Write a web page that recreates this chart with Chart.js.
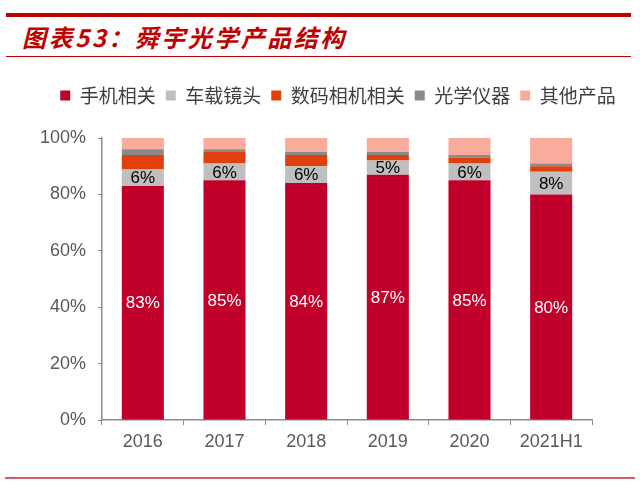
<!DOCTYPE html>
<html>
<head>
<meta charset="utf-8">
<script src="https://cdn.jsdelivr.net/npm/chart.js@4.4.1/dist/chart.umd.min.js"></script>
<style>
  html, body { margin: 0; padding: 0; background: #fff; }
  body { width: 640px; height: 491px; position: relative; overflow: hidden; }
  .rule { position: absolute; background: #C00000; }
  #title {
    position: absolute; left: 22px; top: 22px;
    font-family: "Noto Sans CJK SC", sans-serif; font-weight: bold; font-style: italic;
    font-size: 24px; line-height: 30px; letter-spacing: 2.5px; color: #C00000;
  }
  #wrap { position: absolute; left: 0; top: 70px; width: 640px; height: 400px; }
</style>
</head>
<body>
<div class="rule" style="left:6px;top:13px;width:625px;height:4px;"></div>
<div id="title">图表53：舜宇光学产品结构</div>
<div class="rule" style="left:6px;top:56px;width:625px;height:1px;"></div>
<div id="wrap"><canvas id="chart"></canvas></div>
<div class="rule" style="left:5px;top:477px;width:630px;height:1.5px;background:#D4606E;"></div>
<script>
// 舜宇光学产品结构（占比，%）
var years = ['2016', '2017', '2018', '2019', '2020', '2021H1'];
var phone = [83, 85, 84, 87, 85, 80];        // 手机相关
var auto = [6, 6, 6, 5, 6, 8];               // 车载镜头
var camera = [5, 4, 4, 2, 2, 2];             // 数码相机相关
var instrument = [2, 1, 1, 1, 1, 1];         // 光学仪器
var other = [4, 4, 5, 5, 6, 9];              // 其他产品
var yTicks = [0, 20, 40, 60, 80, 100];

var axisColor = '#8C8C8C';
var textColor = '#595959';

// 在柱子中间写百分比（只写前两个系列）
var barLabels = {
    id: 'barLabels',
    afterDatasetsDraw: function (chart) {
        var ctx = chart.ctx;
        ctx.save();
        ctx.font = '17px "Liberation Sans", Arial, sans-serif';
        ctx.textAlign = 'center';
        ctx.textBaseline = 'middle';
        [0, 1].forEach(function (i) {
            var ds = chart.data.datasets[i];
            ctx.fillStyle = i === 0 ? '#FFFFFF' : '#000000';
            chart.getDatasetMeta(i).data.forEach(function (bar, j) {
                ctx.fillText(ds.data[j] + '%', bar.x, (bar.y + bar.base) / 2 + 1);
            });
        });
        ctx.restore();
    }
};

// 图例挪一下位置：往右、往上
var legendShift = {
    id: 'legendShift',
    afterLayout: function (chart) {
        var lg = chart.legend;
        lg.left += 42;
        lg.right += 42;
        lg.top -= 23;
        lg.bottom -= 23;
    }
};

var ctx = document.getElementById('chart').getContext('2d');
var productChart = new Chart(ctx, {
    type: 'bar',
    data: {
        labels: years,
        datasets: [
            { label: '手机相关', data: phone, backgroundColor: '#C0002B' },
            { label: '车载镜头', data: auto, backgroundColor: '#BFBFBF' },
            { label: '数码相机相关', data: camera, backgroundColor: '#E1400C' },
            { label: '光学仪器', data: instrument, backgroundColor: '#8A8A8A' },
            { label: '其他产品', data: other, backgroundColor: '#FAAC9C' }
        ]
    },
    options: {
        responsive: true,
        maintainAspectRatio: false,
        animation: false,
        layout: { padding: { top: 29, right: 48, left: 0, bottom: 0 } },
        datasets: {
            bar: { categoryPercentage: 1, barPercentage: 0.515, borderWidth: 0 }
        },
        plugins: {
            legend: {
                position: 'top',
                labels: {
                    boxWidth: 10, boxHeight: 10, padding: 10,
                    color: '#404040',
                    font: { family: '"Noto Sans CJK SC", sans-serif', size: 19 }
                }
            },
            tooltip: { enabled: false }
        },
        scales: {
            x: {
                stacked: true,
                afterFit: function (scale) { scale.height = 50; },
                grid: { drawOnChartArea: false, drawTicks: true, tickLength: 5, color: axisColor },
                border: { color: axisColor, width: 1.5 },
                ticks: { color: textColor, padding: 6, font: { family: '"Liberation Sans", Arial, sans-serif', size: 18 } }
            },
            y: {
                stacked: true,
                min: 0,
                max: 100,
                afterFit: function (scale) { scale.width = 102; },
                afterBuildTicks: function (scale) {
                    scale.ticks = yTicks.map(function (v) { return { value: v }; });
                },
                grid: { drawOnChartArea: false, drawTicks: true, tickLength: 4, color: axisColor },
                border: { color: axisColor, width: 1.5 },
                ticks: {
                    color: textColor, padding: 12,
                    font: { family: '"Liberation Sans", Arial, sans-serif', size: 18 },
                    callback: function (v) { return v + '%'; }
                }
            }
        }
    },
    plugins: [barLabels, legendShift]
});
</script>
</body>
</html>
